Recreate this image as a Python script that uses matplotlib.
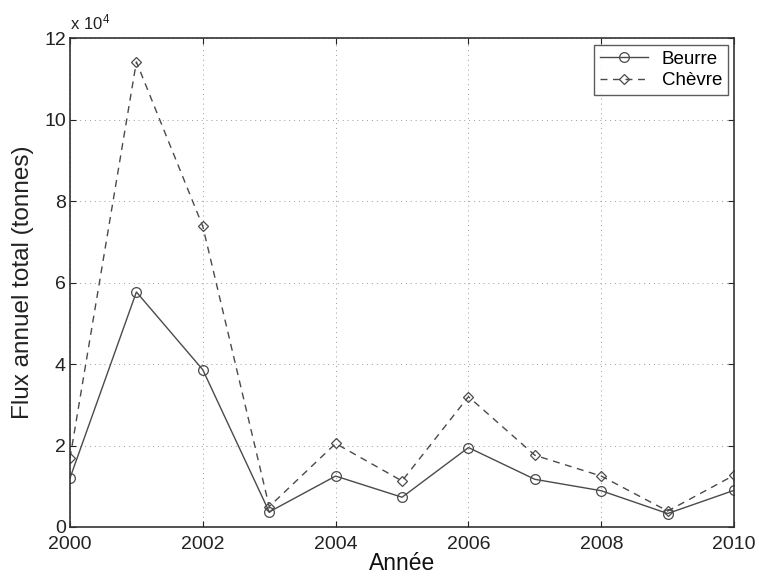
import matplotlib
matplotlib.use("Agg")
import matplotlib.pyplot as plt
import numpy as np

plt.rcParams["font.family"] = ["Liberation Sans", "DejaVu Sans"]

# annual total flux, in tonnes
annees = [2000, 2001, 2002, 2003, 2004, 2005, 2006, 2007, 2008, 2009, 2010]
beurre = [12000, 57700, 38600, 3700, 12500, 7300, 19500, 11700, 8900, 3300, 9000]
chevre = [16900, 114200, 73800, 5000, 20500, 11300, 32000, 17600, 12500, 3900, 12700]
echelle = 1e4

GRIS = "#4a4a4a"

fig = plt.figure(figsize=(7.59, 5.77), dpi=100)
ax = fig.add_axes([0.0922, 0.0867, 0.875, 0.847])

ax.plot(annees, np.array(beurre) / echelle, "-", color=GRIS, lw=1.0,
        marker="o", ms=7, mfc="none", mec=GRIS, mew=0.9, label="Beurre")
ax.plot(annees, np.array(chevre) / echelle, "--", color=GRIS, lw=1.0,
        dashes=(5, 4), marker="D", ms=5.5, mfc="none", mec=GRIS, mew=0.9,
        label="Chèvre")

ax.set_xlim(2000, 2010)
ax.set_ylim(0, 12)
ax.set_xticks(range(2000, 2011, 2))
ax.set_yticks(range(0, 13, 2))
ax.tick_params(direction="in", length=4, width=0.8, labelsize=14,
               top=True, right=True, colors="#222222")
ax.tick_params(axis="x", pad=6.5)
ax.tick_params(axis="y", pad=3)
ax.grid(True, linestyle=(0, (1, 4)), color="#9a9a9a", linewidth=0.7)
for s in ax.spines.values():
    s.set_linewidth(1.2)
    s.set_color("#333333")

ax.set_xlabel("Année", fontsize=16.5, labelpad=-1, color="#111111")
ax.set_ylabel("Flux annuel total (tonnes)", fontsize=17.5, labelpad=7,
              color="#222222")
ax.text(0.0, 1.012, r"$\mathregular{x\ 10^{4}}$", transform=ax.transAxes,
        fontsize=12, ha="left", va="bottom", color="#222222")

leg = ax.legend(loc="upper right", fontsize=13.5, frameon=True, fancybox=False,
                edgecolor="#333333", borderaxespad=0.35, handlelength=2.6,
                labelspacing=0.25, borderpad=0.3, handletextpad=0.7)
leg.get_frame().set_linewidth(1.0)

fig.savefig("out.png", dpi=100)
